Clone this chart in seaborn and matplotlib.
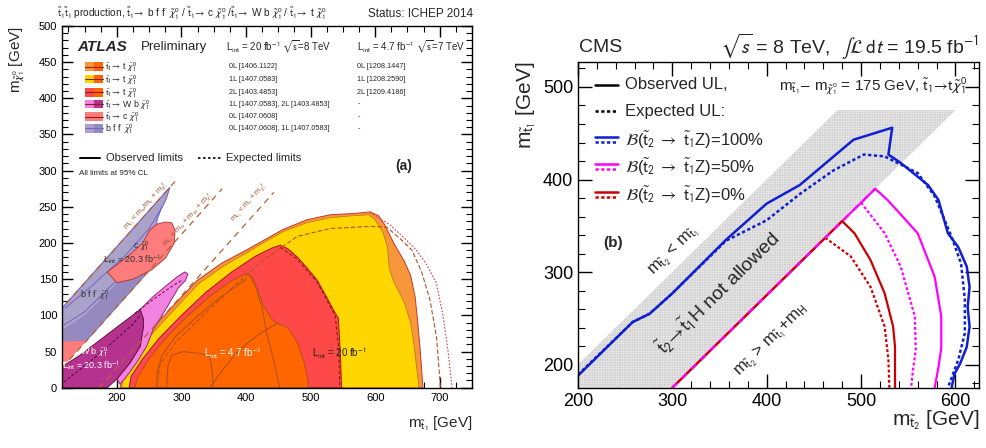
import matplotlib
matplotlib.use('Agg')
import matplotlib.pyplot as plt
import seaborn as sns
from matplotlib.patches import Rectangle
from matplotlib.ticker import MultipleLocator

# ---------------- data: panel (a) ATLAS ----------------
ORANGE_X = [205, 207, 224, 250, 287, 324, 362, 400, 430, 458, 494, 530, 570, 592, 605, 615, 622, 630, 645, 655, 662, 666, 670, 674]
ORANGE_Y = [0, 22, 47, 77, 113, 148, 172, 190, 205, 219, 232, 239, 241, 243, 238, 225, 212, 198, 175, 155, 125, 90, 50, 0]
YELLOW_X = [208, 210, 227, 253, 290, 327, 365, 402, 430, 458, 494, 530, 570, 590, 600, 612, 619, 622, 628, 645, 655, 660, 664, 668]
YELLOW_Y = [0, 20, 44, 73, 109, 144, 168, 187, 202, 216, 228, 235, 238, 239, 232, 215, 195, 165, 148, 118, 90, 60, 30, 0]
RED_X = [219, 222, 240, 265, 300, 338, 378, 415, 440, 453, 465, 479, 495, 510, 525, 537, 543, 546, 548]
RED_Y = [0, 16, 40, 68, 100, 132, 160, 182, 193, 197, 192, 181, 165, 149, 125, 105, 96, 50, 0]
DKOR_X = [228, 232, 250, 275, 308, 345, 378, 401, 410, 418, 428, 440, 448, 465, 480, 490, 495, 497]
DKOR_Y = [0, 14, 40, 68, 98, 127, 148, 158, 152, 135, 112, 95, 89, 83, 62, 35, 15, 0]
C7_1_X = [405, 415, 425, 432, 445, 452]
C7_1_Y = [157, 140, 110, 75, 30, 0]
C7_2_X = [344, 360, 380, 400, 422, 448]
C7_2_Y = [0, 20, 43, 60, 75, 89]
C7_3_X = [277, 279, 285, 303, 330, 344, 348, 349]
C7_3_Y = [0, 30, 45, 50, 47, 43, 20, 0]
C7_4_X = [262, 262, 270, 290, 320, 360, 401]
C7_4_Y = [0, 20, 45, 70, 95, 125, 150]
EXP1_X = [262, 266, 290, 330, 375, 427, 479, 530, 592, 618, 640, 657, 672, 685, 695, 700, 701]
EXP1_Y = [0, 30, 62, 97, 135, 176, 209, 220, 223, 222, 205, 190, 160, 121, 70, 15, 0]
EXP2_X = [592, 623, 645, 664, 680, 695, 705, 713, 719]
EXP2_Y = [242, 225, 207, 190, 170, 144, 100, 50, 0]
EXP3_X = [453, 479, 510, 538, 544, 545]
EXP3_Y = [194, 178, 146, 100, 50, 0]

LAV_X = [115, 282, 276, 268, 262, 262, 153, 115]
LAV_Y = [110, 277, 260, 246, 232, 174, 65, 64]
LAVD_X = [115, 153, 262, 262, 230, 190, 150, 115]
LAVD_Y = [64, 65, 174, 200, 172, 135, 100, 80]
LAVC1_X = [115, 150, 190, 230, 262]
LAVC1_Y = [85, 105, 140, 172, 200]
LAVC2_X = [120, 160, 210, 250, 270]
LAVC2_Y = [110, 140, 180, 220, 250]
SALUP_X = [251, 262, 275, 285, 290, 289, 275, 254, 225, 200, 185, 215, 240]
SALUP_Y = [218, 226, 229, 228, 218, 200, 179, 163, 150, 145, 160, 180, 200]
SALLO_X = [115, 115, 153, 124]
SALLO_Y = [36, 64, 65, 36]
PINK_X = [236, 255, 275, 293, 305, 310, 306, 295, 290, 280, 272, 256, 246, 233, 222, 212, 205, 200, 220, 236, 241, 241]
PINK_Y = [108, 125, 140, 153, 160, 157, 148, 138, 130, 115, 103, 80, 57, 38, 24, 12, 5, 12, 34, 57, 84, 95]
MAG_X = [115, 115, 143, 174, 205, 236, 241, 241, 236, 220, 200, 185]
MAG_Y = [0, 29, 45, 66, 87, 108, 95, 84, 57, 34, 12, 0]
WEXP_X = [228, 250, 272, 290, 302]
WEXP_Y = [103, 118, 132, 143, 149]
WEXP2_X = [118, 150, 180, 205, 225, 236]
WEXP2_Y = [8, 30, 52, 72, 88, 100]

KIN_OFFSETS = [5, 88, 173]          # m_stop - m_LSP of kinematic lines
KIN_YRANGE = [(105, 285), (27, 275), (0, 270)]
KIN_LABELS = [r'm$_{\tilde{\mathrm{t}}_1}$ < m$_\mathrm{b}$/m$_\mathrm{c}$ + m$_{\tilde{\chi}^0_1}$',
              r'm$_{\tilde{\mathrm{t}}_1}$ < m$_\mathrm{b}$ + m$_\mathrm{W}$ + m$_{\tilde{\chi}^0_1}$',
              r'm$_{\tilde{\mathrm{t}}_1}$ < m$_\mathrm{t}$ + m$_{\tilde{\chi}^0_1}$']
KIN_LABEL_POS = [(245, 251), (311, 232), (404, 255)]

LEG_LABELS = [r'$\tilde{\mathrm{t}}_1\!\rightarrow$ t $\tilde{\chi}^0_1$',
              r'$\tilde{\mathrm{t}}_1\!\rightarrow$ t $\tilde{\chi}^0_1$',
              r'$\tilde{\mathrm{t}}_1\!\rightarrow$ t $\tilde{\chi}^0_1$',
              r'$\tilde{\mathrm{t}}_1\!\rightarrow$ W b $\tilde{\chi}^0_1$',
              r'$\tilde{\mathrm{t}}_1\!\rightarrow$ c $\tilde{\chi}^0_1$',
              r'b f f$^\prime$ $\tilde{\chi}^0_1$']
LEG_REF8 = ['0L [1406.1122]', '1L [1407.0583]', '2L [1403.4853]',
            '1L [1407.0583], 2L [1403.4853]', '0L [1407.0608]', '0L [1407.0608], 1L [1407.0583]']
LEG_REF7 = ['0L [1208.1447]', '1L [1208.2590]', '2L [1209.4186]', '-', '-', '-']

C_OR, C_YE, C_RE, C_DK = '#F8963C', '#FFD600', '#FF4848', '#FF6600'
C_PK, C_MG, C_SA, C_LV, C_LVD = '#F282E2', '#B5338F', '#FF7C7C', '#A9A3CA', '#948ABF'
LEG_COL8 = [C_OR, C_YE, C_RE, C_PK, C_SA, C_LV]
LEG_COL7 = [C_DK, C_DK, C_DK, C_MG, C_SA, C_LVD]

# ---------------- data: panel (b) CMS ----------------
BAND_X = [175, 475, 600, 300]
BAND_Y = [175, 475, 475, 175]
BLUE_OBS_X = [200, 258, 276, 300, 357, 400, 435, 492, 533, 529, 542, 571, 582, 592, 603, 612, 615, 613, 615, 612, 605, 599, 596]
BLUE_OBS_Y = [188, 246, 255, 277, 335, 374, 394, 443, 456, 427, 418, 394, 378, 342, 327, 306, 284, 262, 241, 219, 201, 190, 175]
BLUE_EXP_X = [200, 258, 276, 300, 357, 365, 400, 436, 471, 503, 525, 560, 578, 596, 606, 610, 610, 603, 592]
BLUE_EXP_Y = [189, 246, 255, 277, 334, 338, 356, 385, 410, 427, 425, 407, 382, 338, 309, 270, 234, 205, 175]
MAG_OBS_X = [300, 515, 528, 560, 578, 585, 585, 582, 578]
MAG_OBS_Y = [175, 390, 378, 342, 295, 252, 218, 197, 175]
MAG_EXP_X = [500, 525, 542, 557, 558, 555, 553]
MAG_EXP_Y = [375, 342, 306, 252, 216, 194, 175]
RED_OBS_X = [300, 480, 493, 510, 525, 534, 536, 536]
RED_OBS_Y = [175, 355, 342, 313, 277, 241, 219, 175]
RED_EXP_X = [462, 489, 510, 525, 529, 530]
RED_EXP_Y = [337, 317, 284, 241, 205, 175]
CMS_LEG = [r'$\mathcal{B}$($\tilde{\mathrm{t}}_2$ $\rightarrow$ $\tilde{\mathrm{t}}_1$Z)=100%',
           r'$\mathcal{B}$($\tilde{\mathrm{t}}_2$ $\rightarrow$ $\tilde{\mathrm{t}}_1$Z)=50%',
           r'$\mathcal{B}$($\tilde{\mathrm{t}}_2$ $\rightarrow$ $\tilde{\mathrm{t}}_1$Z)=0%']
C_BLUE, C_MAGB, C_REDB = '#1020D0', '#FF00FF', '#CC0000'
CMS_COLS = [C_BLUE, C_MAGB, C_REDB]

# ---------------- style ----------------
sns.set_theme(style='ticks')
plt.rcParams['font.family'] = ['Liberation Sans', 'DejaVu Sans']
plt.rcParams['mathtext.fontset'] = 'stixsans'
plt.rcParams['hatch.linewidth'] = 0.3

fig = plt.figure(figsize=(9.86, 4.48), dpi=100)
ax1 = fig.add_axes([0.0629, 0.1346, 0.4158, 0.8074])
ax2 = fig.add_axes([0.5862, 0.1346, 0.4067, 0.7270])


def curve(ax, xs, ys, **kw):
    sns.lineplot(x=xs, y=ys, sort=False, estimator=None, ax=ax, legend=False, **kw)


BROWN = '#B4501E'

# ---- panel (a) ----
ax1.fill(ORANGE_X, ORANGE_Y, facecolor=C_OR, edgecolor='#C0392B', lw=0.7, zorder=1)
ax1.fill(YELLOW_X, YELLOW_Y, facecolor=C_YE, edgecolor='#C87820', lw=0.6, zorder=1.1)
ax1.fill(RED_X, RED_Y, facecolor=C_RE, edgecolor='#A01818', lw=0.7, zorder=1.2)
ax1.fill(DKOR_X, DKOR_Y, facecolor=C_DK, edgecolor=BROWN, lw=0.7, zorder=1.3)
for cx, cy in [(C7_1_X, C7_1_Y), (C7_2_X, C7_2_Y), (C7_3_X, C7_3_Y), (C7_4_X, C7_4_Y)]:
    curve(ax1, cx, cy, color=BROWN, lw=0.8, zorder=1.4)
curve(ax1, EXP1_X, EXP1_Y, color=BROWN, lw=0.8, linestyle=(0, (4, 2)), zorder=1.5)
curve(ax1, EXP2_X, EXP2_Y, color='#D04050', lw=0.8, linestyle=(0, (1.5, 1.5)), zorder=1.5)
curve(ax1, EXP3_X, EXP3_Y, color='#8B1A1A', lw=0.8, linestyle=(0, (3, 2)), zorder=1.5)

ax1.fill(LAV_X, LAV_Y, facecolor=C_LV, edgecolor='#7A62C8', lw=0.8, zorder=1)
ax1.fill(LAVD_X, LAVD_Y, facecolor=C_LVD, edgecolor='none', zorder=1.05)
curve(ax1, LAVC1_X, LAVC1_Y, color='#7A62C8', lw=0.7, zorder=1.1)
curve(ax1, LAVC2_X, LAVC2_Y, color='#7A62C8', lw=0.7, zorder=1.1)
ax1.fill(SALUP_X, SALUP_Y, facecolor=C_SA, edgecolor='#B03030', lw=0.6, zorder=1.2)
ax1.fill(SALLO_X, SALLO_Y, facecolor=C_SA, edgecolor='none', zorder=1.2)
ax1.fill(PINK_X, PINK_Y, facecolor=C_PK, edgecolor='#A0206E', lw=0.7, zorder=1.2)
ax1.fill(MAG_X, MAG_Y, facecolor=C_MG, edgecolor='#6A1040', lw=0.7, zorder=1.3)
curve(ax1, WEXP_X, WEXP_Y, color='#6A1040', lw=0.7, linestyle=(0, (3, 2)), zorder=1.4)
curve(ax1, WEXP2_X, WEXP2_Y, color='#4A0830', lw=0.7, linestyle=(0, (3, 2)), zorder=1.4)

for off, (y0, y1) in zip(KIN_OFFSETS, KIN_YRANGE):
    curve(ax1, [y0 + off, y1 + off], [y0, y1], color='#B8602E', lw=0.9,
          linestyle=(0, (5, 4)), zorder=1.6)
for lab, (lx, ly) in zip(KIN_LABELS, KIN_LABEL_POS):
    ax1.text(lx, ly, lab, rotation=48, ha='center', va='center', fontsize=5.5,
             color='#A0522D', zorder=3)

ax1.text(238, 196, r'c $\tilde{\chi}^0_1$', fontsize=6.5, color='#303030', ha='center', va='center', zorder=3)
ax1.text(223, 176, r'L$_\mathrm{int}$ = 20.3 fb$^{-1}$', fontsize=6.5, color='#303030', ha='center', va='center', zorder=3)
ax1.text(165, 128, r'b f f$^\prime$ $\tilde{\chi}^0_1$', fontsize=6.5, color='#303030', ha='center', va='center', zorder=3)
ax1.text(165, 49, r'W b $\tilde{\chi}^0_1$', fontsize=6.5, color='white', ha='center', va='center', zorder=3)
ax1.text(160, 29, r'L$_\mathrm{int}$ = 20.3 fb$^{-1}$', fontsize=6.5, color='white', ha='center', va='center', zorder=3)
ax1.text(379, 48, r'L$_\mathrm{int}$ = 4.7 fb$^{-1}$', fontsize=7, color='white', ha='center', va='center', zorder=3)
ax1.text(544, 48, r'L$_\mathrm{int}$ = 20 fb$^{-1}$', fontsize=7, color='#202020', ha='center', va='center', zorder=3)

ax1.set_xlim(115, 750)
ax1.set_ylim(0, 500)
ax1.xaxis.set_major_locator(MultipleLocator(100))
ax1.xaxis.set_minor_locator(MultipleLocator(25))
ax1.yaxis.set_major_locator(MultipleLocator(50))
ax1.yaxis.set_minor_locator(MultipleLocator(10))
ax1.tick_params(which='both', direction='in', top=True, right=True, colors='black', labelsize=8)
ax1.tick_params(which='major', length=8, width=1)
ax1.tick_params(which='minor', length=4, width=0.8)
for s in ax1.spines.values():
    s.set_linewidth(1.0)
    s.set_color('black')
ax1.set_xlabel(r'm$_{\tilde{\mathrm{t}}_1}$ [GeV]', loc='right', fontsize=11)
ax1.set_ylabel(r'm$_{\tilde{\chi}^0_1}$ [GeV]', loc='top', fontsize=11)
ax1.xaxis.set_label_coords(1.0, -0.075)
ax1.yaxis.set_label_coords(-0.085, 1.0)

# legend (a)
T = ax1.transAxes
ax1.text(0.037, 0.942, 'ATLAS', transform=T, fontsize=11, fontweight='bold', fontstyle='italic', va='center')
ax1.text(0.192, 0.942, 'Preliminary', transform=T, fontsize=9.5, va='center')
ax1.text(0.40, 0.942, r'L$_\mathrm{int}$ = 20 fb$^{-1}$ $\sqrt{\mathrm{s}}$=8 TeV', transform=T, fontsize=7, va='center')
ax1.text(0.72, 0.942, r'L$_\mathrm{int}$ = 4.7 fb$^{-1}$ $\sqrt{\mathrm{s}}$=7 TeV', transform=T, fontsize=7, va='center')
ROW_Y = [0.8875, 0.853, 0.817, 0.784, 0.749, 0.717]
for i, yy in enumerate(ROW_Y):
    ax1.add_patch(Rectangle((0.056, yy - 0.012), 0.022, 0.024, transform=T, facecolor=LEG_COL8[i], edgecolor='none', zorder=3))
    ax1.add_patch(Rectangle((0.078, yy - 0.012), 0.022, 0.024, transform=T, facecolor=LEG_COL7[i], edgecolor='none', zorder=3))
    ax1.plot([0.056, 0.100], [yy, yy], transform=T, color='#8B2020' if i < 5 else '#7A62C8', lw=0.8, zorder=4)
    ax1.text(0.106, yy - 0.002, LEG_LABELS[i], transform=T, fontsize=6.3, va='center', zorder=4)
    ax1.text(0.407, yy, LEG_REF8[i], transform=T, fontsize=5.2, va='center', zorder=4)
    ax1.text(0.72, yy, LEG_REF7[i], transform=T, fontsize=5.2, va='center', zorder=4)
ax1.plot([0.044, 0.092], [0.635, 0.635], transform=T, color='black', lw=1.4)
ax1.text(0.107, 0.635, 'Observed limits', transform=T, fontsize=8, va='center')
ax1.plot([0.332, 0.39], [0.635, 0.635], transform=T, color='black', lw=1.2, linestyle=(0, (1.5, 1.5)))
ax1.text(0.40, 0.635, 'Expected limits', transform=T, fontsize=8, va='center')
ax1.text(0.042, 0.592, 'All limits at 95% CL', transform=T, fontsize=5.8, va='center')
ax1.text(0.813, 0.613, '(a)', transform=T, fontsize=10, fontweight='bold', va='center')

fig.text(57 / 986, 1 - 14 / 448,
         r'$\tilde{\mathrm{t}}_1\tilde{\mathrm{t}}_1$ production, $\tilde{\mathrm{t}}_1\!\rightarrow$ b f f$^\prime$ $\tilde{\chi}^0_1$ / '
         r'$\tilde{\mathrm{t}}_1\!\rightarrow$ c $\tilde{\chi}^0_1$ /$\tilde{\mathrm{t}}_1\!\rightarrow$ W b $\tilde{\chi}^0_1$ / '
         r'$\tilde{\mathrm{t}}_1\!\rightarrow$ t $\tilde{\chi}^0_1$', fontsize=7.3, va='center')
fig.text(473 / 986, 1 - 14 / 448, 'Status: ICHEP 2014', fontsize=8.5, va='center', ha='right')

# ---- panel (b) ----
ax2.fill(BAND_X, BAND_Y, facecolor='#ebebeb', edgecolor='#cdcdcd', hatch='+' * 10, lw=0, zorder=1)
curve(ax2, BLUE_EXP_X, BLUE_EXP_Y, color=C_BLUE, lw=1.8, linestyle=(0, (1.3, 1.0)), zorder=2)
curve(ax2, BLUE_OBS_X, BLUE_OBS_Y, color=C_BLUE, lw=1.8, zorder=2.1)
curve(ax2, MAG_OBS_X, MAG_OBS_Y, color=C_MAGB, lw=1.6, zorder=2)
curve(ax2, MAG_EXP_X, MAG_EXP_Y, color=C_MAGB, lw=1.6, linestyle=(0, (1.3, 1.0)), zorder=2)
curve(ax2, RED_OBS_X, RED_OBS_Y, color=C_REDB, lw=1.6, zorder=2.2)
curve(ax2, RED_EXP_X, RED_EXP_Y, color=C_REDB, lw=1.6, linestyle=(0, (1.3, 1.0)), zorder=2.2)
curve(ax2, MAG_OBS_X[:2], MAG_OBS_Y[:2], color=C_MAGB, lw=1.6, linestyle=(0, (3, 3)), zorder=2.3)

ax2.set_xlim(200, 625)
ax2.set_ylim(175, 527)
ax2.xaxis.set_major_locator(MultipleLocator(100))
ax2.xaxis.set_minor_locator(MultipleLocator(20))
ax2.yaxis.set_major_locator(MultipleLocator(100))
ax2.yaxis.set_minor_locator(MultipleLocator(20))
ax2.tick_params(which='both', direction='in', top=True, right=True, colors='black', labelsize=13)
ax2.tick_params(which='major', length=10, width=1)
ax2.tick_params(which='minor', length=5, width=0.8)
for s in ax2.spines.values():
    s.set_linewidth(1.0)
    s.set_color('black')
ax2.set_xlabel(r'm$_{\tilde{\mathrm{t}}_2}$ [GeV]', loc='right', fontsize=15)
ax2.set_ylabel(r'm$_{\tilde{\mathrm{t}}_1}$ [GeV]', loc='top', fontsize=15)
ax2.xaxis.set_label_coords(1.0, -0.065)
ax2.yaxis.set_label_coords(-0.100, 1.0)

T2 = ax2.transAxes
ax2.plot([0.042, 0.100], [0.930, 0.930], transform=T2, color='black', lw=1.8)
ax2.text(0.117, 0.930, 'Observed UL,', transform=T2, fontsize=12, va='center')
ax2.plot([0.042, 0.100], [0.849, 0.849], transform=T2, color='black', lw=1.8, linestyle=(0, (1.3, 1.0)))
ax2.text(0.117, 0.849, 'Expected UL:', transform=T2, fontsize=12, va='center')
for yy, lab, col in zip([0.761, 0.678, 0.592], CMS_LEG, CMS_COLS):
    ax2.plot([0.042, 0.100], [yy + 0.008, yy + 0.008], transform=T2, color=col, lw=1.8)
    ax2.plot([0.042, 0.100], [yy - 0.008, yy - 0.008], transform=T2, color=col, lw=1.8, linestyle=(0, (1.3, 1.0)))
    ax2.text(0.117, yy, lab, transform=T2, fontsize=12, va='center')
ax2.text(0.9725, 0.925,
         r'm$_{\tilde{\mathrm{t}}_1}$$-$ m$_{\tilde{\chi}^0_1}$ = 175 GeV, $\tilde{\mathrm{t}}_1\!\rightarrow\!\mathrm{t}\tilde{\chi}^0_1$',
         transform=T2, fontsize=11, va='center', ha='right')
ax2.text(0.062, 0.444, '(b)', transform=T2, fontsize=11, fontweight='bold', va='center')
ax2.text(302, 322, r'm$_{\tilde{\mathrm{t}}_2}$ < m$_{\tilde{\mathrm{t}}_1}$', rotation=44.6,
         ha='center', va='center', fontsize=12, zorder=3)
ax2.text(349, 277, r'$\tilde{\mathrm{t}}_2\!\rightarrow\!\tilde{\mathrm{t}}_1$H not allowed', rotation=44.6,
         ha='center', va='center', fontsize=14, zorder=3)
ax2.text(405, 226, r'm$_{\tilde{\mathrm{t}}_2}$ > m$_{\tilde{\mathrm{t}}_1}$+m$_\mathrm{H}$', rotation=44.6,
         ha='center', va='center', fontsize=12, zorder=3)

fig.text(579 / 986, 1 - 47 / 448, 'CMS', fontsize=14, va='center', ha='left')
fig.text(979 / 986, 1 - 47 / 448,
         r'$\sqrt{s}$ = 8 TeV,  $\int\mathcal{L}\,\mathrm{d}t$ = 19.5 fb$^{-1}$',
         fontsize=14, va='center', ha='right')

fig.savefig('out.png', dpi=100)
